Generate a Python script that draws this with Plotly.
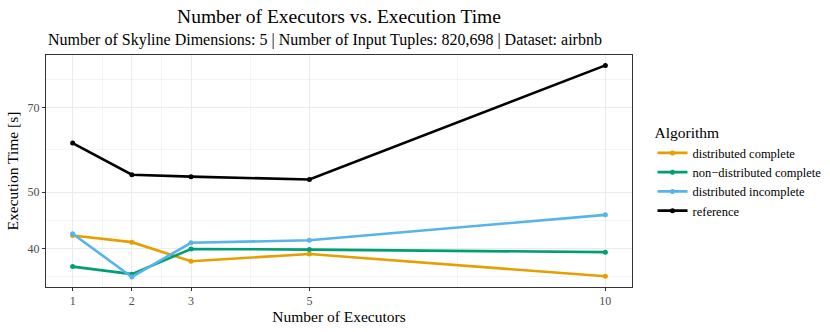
import numpy as np
import plotly.graph_objects as go

executors = [1, 2, 3, 5, 10]
dist_complete = [42.1, 41.0, 38.0, 39.1, 35.8]
nondist_complete = [37.2, 36.1, 39.9, 39.8, 39.4]
dist_incomplete = [42.4, 35.7, 40.9, 41.3, 45.7]
reference = [60.8, 53.6, 53.2, 52.6, 82.8]

series = [
    ("distributed complete", dist_complete, "#E69F00"),
    ("non\u2212distributed complete", nondist_complete, "#009E73"),
    ("distributed incomplete", dist_incomplete, "#56B4E9"),
    ("reference", reference, "#000000"),
]

font = "Liberation Serif"

fig = go.Figure()
for name, vals, col in series:
    fig.add_trace(
        go.Scatter(
            x=executors,
            y=vals,
            name=name,
            mode="lines+markers",
            line=dict(color=col, width=2.6),
            marker=dict(color=col, size=5),
        )
    )

fig.update_layout(
    width=830,
    height=332,
    margin=dict(l=46, r=198, t=55, b=45, autoexpand=False),
    plot_bgcolor="white",
    paper_bgcolor="white",
    font=dict(family=font, color="black"),
    title=dict(
        text="Number of Executors vs. Execution Time",
        x=(46 + 632) / 2 / 830,
        xanchor="center",
        y=1 - 16 / 332,
        yanchor="middle",
        font=dict(size=19.5, family=font),
    ),
    legend=dict(
        title=dict(text="Algorithm", font=dict(size=15.5, family=font)),
        x=1.035,
        xanchor="left",
        y=0.728,
        yanchor="top",
        font=dict(size=12.5, family=font),
        tracegroupgap=0,
        itemwidth=30,
        bgcolor="rgba(0,0,0,0)",
    ),
    annotations=[
        dict(
            text="Number of Skyline Dimensions: 5 | Number of Input Tuples: 820,698 | Dataset: airbnb",
            xref="paper",
            yref="paper",
            x=0,
            xanchor="left",
            y=1 + 15 / 232,
            yanchor="middle",
            showarrow=False,
            font=dict(size=16, family=font),
        )
    ],
)

fig.update_xaxes(
    range=[0.55, 10.45],
    tickvals=executors,
    ticks="outside",
    ticklen=3,
    tickcolor="#333333",
    tickfont=dict(size=12, color="#4D4D4D", family=font),
    showgrid=True,
    gridcolor="#EBEBEB",
    gridwidth=1,
    minor=dict(tickvals=[1.5, 2.5, 4, 7.5], showgrid=True, gridcolor="#F4F4F4", gridwidth=0.6),
    zeroline=False,
    showline=True,
    linecolor="#333333",
    linewidth=1,
    mirror=True,
    automargin=False,
    title=dict(text="Number of Executors", font=dict(size=15.5, family=font), standoff=2),
)

fig.update_yaxes(
    type="log",
    range=[np.log10(34.3), np.log10(86.3)],
    tickvals=[40, 50, 70],
    ticktext=["40", "50", "70"],
    ticks="outside",
    ticklen=3,
    tickcolor="#333333",
    tickfont=dict(size=12, color="#4D4D4D", family=font),
    showgrid=True,
    gridcolor="#EBEBEB",
    gridwidth=1,
    minor=dict(tickvals=[35.8, 44.7, 59.2, 78.2], showgrid=True, gridcolor="#F4F4F4", gridwidth=0.6),
    zeroline=False,
    showline=True,
    linecolor="#333333",
    linewidth=1,
    mirror=True,
    automargin=False,
    title=dict(text="Execution Time [s]", font=dict(size=15.5, family=font), standoff=5),
)

# page body has a default 8px margin, drop it so the figure sits at 0,0
fig.write_html(
    "out.html",
    config={"displayModeBar": False},
    post_script="document.body.style.margin='0px';",
)
